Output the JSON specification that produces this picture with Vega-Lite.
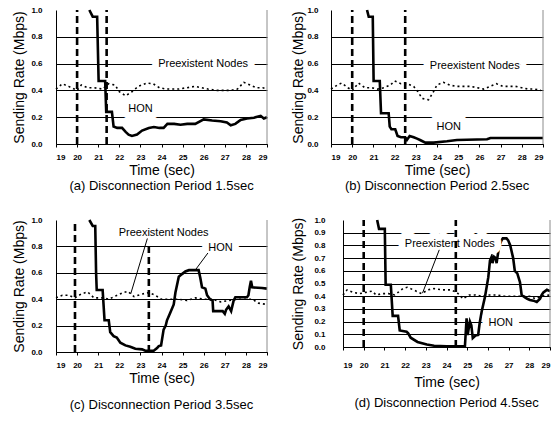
{
  "$schema": "https://vega.github.io/schema/vega-lite/v6.json",
  "background": "white",
  "padding": {"left": 12, "top": 4, "right": 2, "bottom": 2},
  "config": {
    "view": {"stroke": null},
    "font": "Liberation Sans",
    "axis": {
      "labelFont": "Liberation Sans",
      "labelFontWeight": "bold",
      "labelFontSize": 8,
      "labelColor": "black",
      "titleFont": "Liberation Sans",
      "titleFontSize": 14,
      "titleFontWeight": "normal",
      "titleColor": "black",
      "domainColor": "black",
      "domainWidth": 1
    },
    "axisX": {"grid": false, "tickColor": "black", "tickSize": 3, "labelPadding": 6, "titlePadding": 2, "format": "d"},
    "axisY": {
      "grid": true,
      "gridColor": "black",
      "gridWidth": 1,
      "gridOpacity": {"condition": {"test": "datum.value >= 0.99", "value": 0}, "value": 1},
      "ticks": false,
      "format": ".1f",
      "labelPadding": 14,
      "titlePadding": 4
    },
    "title": {"orient": "bottom", "fontSize": 13, "fontWeight": "normal", "font": "Liberation Sans", "color": "black", "offset": 3}
  },
  "datasets": {
    "hon": [
      {"panel": "a", "t": 20.58, "v": 1.0}, {"panel": "a", "t": 20.74, "v": 0.95}, {"panel": "a", "t": 20.95, "v": 0.95},
      {"panel": "a", "t": 21.02, "v": 0.47}, {"panel": "a", "t": 21.33, "v": 0.47}, {"panel": "a", "t": 21.38, "v": 0.24},
      {"panel": "a", "t": 21.65, "v": 0.24}, {"panel": "a", "t": 21.73, "v": 0.13}, {"panel": "a", "t": 21.9, "v": 0.12},
      {"panel": "a", "t": 22.13, "v": 0.12}, {"panel": "a", "t": 22.3, "v": 0.09}, {"panel": "a", "t": 22.44, "v": 0.07},
      {"panel": "a", "t": 22.6, "v": 0.06}, {"panel": "a", "t": 22.84, "v": 0.07}, {"panel": "a", "t": 23.08, "v": 0.1},
      {"panel": "a", "t": 23.4, "v": 0.12}, {"panel": "a", "t": 23.64, "v": 0.127}, {"panel": "a", "t": 23.9, "v": 0.12},
      {"panel": "a", "t": 24.1, "v": 0.12}, {"panel": "a", "t": 24.28, "v": 0.15}, {"panel": "a", "t": 24.6, "v": 0.15},
      {"panel": "a", "t": 24.9, "v": 0.144}, {"panel": "a", "t": 25.22, "v": 0.15}, {"panel": "a", "t": 25.6, "v": 0.15},
      {"panel": "a", "t": 26.0, "v": 0.184}, {"panel": "a", "t": 26.4, "v": 0.175}, {"panel": "a", "t": 26.8, "v": 0.17},
      {"panel": "a", "t": 27.1, "v": 0.16}, {"panel": "a", "t": 27.28, "v": 0.14}, {"panel": "a", "t": 27.5, "v": 0.15},
      {"panel": "a", "t": 27.75, "v": 0.18}, {"panel": "a", "t": 28.05, "v": 0.19}, {"panel": "a", "t": 28.38, "v": 0.196},
      {"panel": "a", "t": 28.7, "v": 0.21}, {"panel": "a", "t": 28.85, "v": 0.19}, {"panel": "a", "t": 29.0, "v": 0.2},

      {"panel": "b", "t": 20.7, "v": 1.0}, {"panel": "b", "t": 20.78, "v": 0.95}, {"panel": "b", "t": 20.97, "v": 0.95},
      {"panel": "b", "t": 21.01, "v": 0.47}, {"panel": "b", "t": 21.3, "v": 0.47}, {"panel": "b", "t": 21.36, "v": 0.23},
      {"panel": "b", "t": 21.72, "v": 0.23}, {"panel": "b", "t": 21.77, "v": 0.13}, {"panel": "b", "t": 21.85, "v": 0.11},
      {"panel": "b", "t": 22.03, "v": 0.11}, {"panel": "b", "t": 22.14, "v": 0.06}, {"panel": "b", "t": 22.3, "v": 0.05},
      {"panel": "b", "t": 22.5, "v": 0.05}, {"panel": "b", "t": 22.58, "v": 0.03}, {"panel": "b", "t": 22.71, "v": 0.06},
      {"panel": "b", "t": 22.9, "v": 0.05}, {"panel": "b", "t": 23.06, "v": 0.04}, {"panel": "b", "t": 23.2, "v": 0.03},
      {"panel": "b", "t": 23.45, "v": 0.01}, {"panel": "b", "t": 23.84, "v": 0.01}, {"panel": "b", "t": 24.47, "v": 0.02},
      {"panel": "b", "t": 24.94, "v": 0.03}, {"panel": "b", "t": 26.36, "v": 0.035}, {"panel": "b", "t": 26.52, "v": 0.045},
      {"panel": "b", "t": 29.0, "v": 0.045},

      {"panel": "c", "t": 20.58, "v": 1.0}, {"panel": "c", "t": 20.74, "v": 0.955}, {"panel": "c", "t": 20.86, "v": 0.955},
      {"panel": "c", "t": 20.9, "v": 0.6}, {"panel": "c", "t": 20.93, "v": 0.47}, {"panel": "c", "t": 21.21, "v": 0.47},
      {"panel": "c", "t": 21.3, "v": 0.24}, {"panel": "c", "t": 21.5, "v": 0.24}, {"panel": "c", "t": 21.57, "v": 0.15},
      {"panel": "c", "t": 21.73, "v": 0.12}, {"panel": "c", "t": 21.88, "v": 0.11}, {"panel": "c", "t": 22.05, "v": 0.07},
      {"panel": "c", "t": 22.29, "v": 0.05}, {"panel": "c", "t": 22.52, "v": 0.04}, {"panel": "c", "t": 22.76, "v": 0.025},
      {"panel": "c", "t": 23.08, "v": 0.02}, {"panel": "c", "t": 23.23, "v": 0.01}, {"panel": "c", "t": 23.63, "v": 0.01},
      {"panel": "c", "t": 23.79, "v": 0.03}, {"panel": "c", "t": 23.87, "v": 0.045}, {"panel": "c", "t": 23.98, "v": 0.05},
      {"panel": "c", "t": 24.1, "v": 0.17}, {"panel": "c", "t": 24.2, "v": 0.2}, {"panel": "c", "t": 24.26, "v": 0.24},
      {"panel": "c", "t": 24.42, "v": 0.3}, {"panel": "c", "t": 24.58, "v": 0.36}, {"panel": "c", "t": 24.66, "v": 0.45},
      {"panel": "c", "t": 24.82, "v": 0.57}, {"panel": "c", "t": 24.97, "v": 0.59}, {"panel": "c", "t": 25.13, "v": 0.61},
      {"panel": "c", "t": 25.3, "v": 0.62}, {"panel": "c", "t": 25.76, "v": 0.62}, {"panel": "c", "t": 25.84, "v": 0.56},
      {"panel": "c", "t": 25.92, "v": 0.49}, {"panel": "c", "t": 26.08, "v": 0.48}, {"panel": "c", "t": 26.16, "v": 0.43},
      {"panel": "c", "t": 26.3, "v": 0.4}, {"panel": "c", "t": 26.42, "v": 0.39}, {"panel": "c", "t": 26.45, "v": 0.31},
      {"panel": "c", "t": 26.9, "v": 0.31}, {"panel": "c", "t": 27.0, "v": 0.29}, {"panel": "c", "t": 27.06, "v": 0.32},
      {"panel": "c", "t": 27.18, "v": 0.345}, {"panel": "c", "t": 27.3, "v": 0.31}, {"panel": "c", "t": 27.42, "v": 0.39},
      {"panel": "c", "t": 27.5, "v": 0.415}, {"panel": "c", "t": 28.05, "v": 0.415}, {"panel": "c", "t": 28.12, "v": 0.43},
      {"panel": "c", "t": 28.18, "v": 0.49}, {"panel": "c", "t": 28.24, "v": 0.54}, {"panel": "c", "t": 28.3, "v": 0.49},
      {"panel": "c", "t": 28.76, "v": 0.485}, {"panel": "c", "t": 29.0, "v": 0.48},

      {"panel": "d", "t": 20.65, "v": 1.0}, {"panel": "d", "t": 20.74, "v": 0.93}, {"panel": "d", "t": 21.02, "v": 0.93},
      {"panel": "d", "t": 21.06, "v": 0.49}, {"panel": "d", "t": 21.31, "v": 0.49}, {"panel": "d", "t": 21.4, "v": 0.245},
      {"panel": "d", "t": 21.66, "v": 0.245}, {"panel": "d", "t": 21.74, "v": 0.13}, {"panel": "d", "t": 22.07, "v": 0.12},
      {"panel": "d", "t": 22.15, "v": 0.107}, {"panel": "d", "t": 22.27, "v": 0.073}, {"panel": "d", "t": 22.6, "v": 0.04},
      {"panel": "d", "t": 23.05, "v": 0.02}, {"panel": "d", "t": 23.4, "v": 0.01}, {"panel": "d", "t": 24.0, "v": 0.006},
      {"panel": "d", "t": 24.89, "v": 0.006}, {"panel": "d", "t": 24.97, "v": 0.225}, {"panel": "d", "t": 25.02, "v": 0.095},
      {"panel": "d", "t": 25.13, "v": 0.2}, {"panel": "d", "t": 25.2, "v": 0.17}, {"panel": "d", "t": 25.27, "v": 0.07},
      {"panel": "d", "t": 25.4, "v": 0.09}, {"panel": "d", "t": 25.53, "v": 0.095}, {"panel": "d", "t": 25.6, "v": 0.185},
      {"panel": "d", "t": 25.7, "v": 0.28}, {"panel": "d", "t": 25.86, "v": 0.395}, {"panel": "d", "t": 26.02, "v": 0.55},
      {"panel": "d", "t": 26.1, "v": 0.68}, {"panel": "d", "t": 26.18, "v": 0.71}, {"panel": "d", "t": 26.22, "v": 0.66},
      {"panel": "d", "t": 26.3, "v": 0.71}, {"panel": "d", "t": 26.38, "v": 0.7}, {"panel": "d", "t": 26.42, "v": 0.66},
      {"panel": "d", "t": 26.5, "v": 0.75}, {"panel": "d", "t": 26.58, "v": 0.81}, {"panel": "d", "t": 26.66, "v": 0.84},
      {"panel": "d", "t": 26.72, "v": 0.855}, {"panel": "d", "t": 26.9, "v": 0.855}, {"panel": "d", "t": 26.98, "v": 0.84},
      {"panel": "d", "t": 27.08, "v": 0.8}, {"panel": "d", "t": 27.22, "v": 0.7}, {"panel": "d", "t": 27.3, "v": 0.6},
      {"panel": "d", "t": 27.42, "v": 0.58}, {"panel": "d", "t": 27.55, "v": 0.51}, {"panel": "d", "t": 27.63, "v": 0.41},
      {"panel": "d", "t": 27.79, "v": 0.39}, {"panel": "d", "t": 27.9, "v": 0.38}, {"panel": "d", "t": 28.03, "v": 0.37},
      {"panel": "d", "t": 28.2, "v": 0.365}, {"panel": "d", "t": 28.36, "v": 0.355}, {"panel": "d", "t": 28.52, "v": 0.38},
      {"panel": "d", "t": 28.6, "v": 0.41}, {"panel": "d", "t": 28.68, "v": 0.43}, {"panel": "d", "t": 28.85, "v": 0.45},
      {"panel": "d", "t": 29.0, "v": 0.44}
    ],
    "pre": [
      {"panel": "a", "t": 19.0, "v": 0.41}, {"panel": "a", "t": 19.3, "v": 0.45}, {"panel": "a", "t": 19.6, "v": 0.43},
      {"panel": "a", "t": 20.0, "v": 0.4}, {"panel": "a", "t": 20.2, "v": 0.44}, {"panel": "a", "t": 20.5, "v": 0.42},
      {"panel": "a", "t": 20.8, "v": 0.42}, {"panel": "a", "t": 21.2, "v": 0.41}, {"panel": "a", "t": 21.5, "v": 0.45},
      {"panel": "a", "t": 21.8, "v": 0.44}, {"panel": "a", "t": 22.0, "v": 0.39}, {"panel": "a", "t": 22.3, "v": 0.36},
      {"panel": "a", "t": 22.6, "v": 0.39}, {"panel": "a", "t": 22.9, "v": 0.43}, {"panel": "a", "t": 23.3, "v": 0.455},
      {"panel": "a", "t": 23.6, "v": 0.45}, {"panel": "a", "t": 23.9, "v": 0.42}, {"panel": "a", "t": 24.2, "v": 0.41},
      {"panel": "a", "t": 24.5, "v": 0.41}, {"panel": "a", "t": 24.8, "v": 0.41}, {"panel": "a", "t": 25.2, "v": 0.42},
      {"panel": "a", "t": 25.6, "v": 0.43}, {"panel": "a", "t": 25.9, "v": 0.42}, {"panel": "a", "t": 26.2, "v": 0.41},
      {"panel": "a", "t": 26.6, "v": 0.4}, {"panel": "a", "t": 27.0, "v": 0.4}, {"panel": "a", "t": 27.3, "v": 0.4},
      {"panel": "a", "t": 27.6, "v": 0.41}, {"panel": "a", "t": 27.9, "v": 0.46}, {"panel": "a", "t": 28.2, "v": 0.44},
      {"panel": "a", "t": 28.5, "v": 0.42}, {"panel": "a", "t": 28.8, "v": 0.42}, {"panel": "a", "t": 29.0, "v": 0.41},

      {"panel": "b", "t": 19.0, "v": 0.41}, {"panel": "b", "t": 19.3, "v": 0.44}, {"panel": "b", "t": 19.5, "v": 0.455},
      {"panel": "b", "t": 19.8, "v": 0.42}, {"panel": "b", "t": 20.0, "v": 0.4}, {"panel": "b", "t": 20.3, "v": 0.455},
      {"panel": "b", "t": 20.6, "v": 0.42}, {"panel": "b", "t": 20.9, "v": 0.42}, {"panel": "b", "t": 21.2, "v": 0.41},
      {"panel": "b", "t": 21.5, "v": 0.42}, {"panel": "b", "t": 21.8, "v": 0.44}, {"panel": "b", "t": 22.0, "v": 0.47},
      {"panel": "b", "t": 22.3, "v": 0.45}, {"panel": "b", "t": 22.6, "v": 0.45}, {"panel": "b", "t": 22.9, "v": 0.43},
      {"panel": "b", "t": 23.1, "v": 0.39}, {"panel": "b", "t": 23.3, "v": 0.34}, {"panel": "b", "t": 23.6, "v": 0.33},
      {"panel": "b", "t": 23.8, "v": 0.38}, {"panel": "b", "t": 24.0, "v": 0.44}, {"panel": "b", "t": 24.3, "v": 0.46},
      {"panel": "b", "t": 24.6, "v": 0.44}, {"panel": "b", "t": 24.9, "v": 0.43}, {"panel": "b", "t": 25.2, "v": 0.43},
      {"panel": "b", "t": 25.6, "v": 0.43}, {"panel": "b", "t": 25.9, "v": 0.42}, {"panel": "b", "t": 26.2, "v": 0.41},
      {"panel": "b", "t": 26.5, "v": 0.43}, {"panel": "b", "t": 26.8, "v": 0.45}, {"panel": "b", "t": 27.1, "v": 0.43},
      {"panel": "b", "t": 27.4, "v": 0.43}, {"panel": "b", "t": 27.7, "v": 0.43}, {"panel": "b", "t": 28.0, "v": 0.42},
      {"panel": "b", "t": 28.3, "v": 0.41}, {"panel": "b", "t": 28.6, "v": 0.41}, {"panel": "b", "t": 28.9, "v": 0.4},

      {"panel": "c", "t": 19.0, "v": 0.41}, {"panel": "c", "t": 19.3, "v": 0.43}, {"panel": "c", "t": 19.6, "v": 0.43},
      {"panel": "c", "t": 19.9, "v": 0.41}, {"panel": "c", "t": 20.2, "v": 0.44}, {"panel": "c", "t": 20.5, "v": 0.455},
      {"panel": "c", "t": 20.8, "v": 0.41}, {"panel": "c", "t": 21.2, "v": 0.41}, {"panel": "c", "t": 21.5, "v": 0.4},
      {"panel": "c", "t": 21.9, "v": 0.43}, {"panel": "c", "t": 22.2, "v": 0.45}, {"panel": "c", "t": 22.4, "v": 0.46},
      {"panel": "c", "t": 22.7, "v": 0.42}, {"panel": "c", "t": 23.1, "v": 0.44}, {"panel": "c", "t": 23.4, "v": 0.45},
      {"panel": "c", "t": 23.7, "v": 0.43}, {"panel": "c", "t": 24.0, "v": 0.4}, {"panel": "c", "t": 24.4, "v": 0.4},
      {"panel": "c", "t": 24.8, "v": 0.4}, {"panel": "c", "t": 25.2, "v": 0.39}, {"panel": "c", "t": 25.6, "v": 0.41},
      {"panel": "c", "t": 26.0, "v": 0.4}, {"panel": "c", "t": 26.4, "v": 0.4}, {"panel": "c", "t": 26.8, "v": 0.38},
      {"panel": "c", "t": 27.2, "v": 0.39}, {"panel": "c", "t": 27.6, "v": 0.4}, {"panel": "c", "t": 28.0, "v": 0.4},
      {"panel": "c", "t": 28.3, "v": 0.4}, {"panel": "c", "t": 28.6, "v": 0.37}, {"panel": "c", "t": 29.0, "v": 0.36},

      {"panel": "d", "t": 19.0, "v": 0.41}, {"panel": "d", "t": 19.2, "v": 0.45}, {"panel": "d", "t": 19.5, "v": 0.43},
      {"panel": "d", "t": 19.8, "v": 0.42}, {"panel": "d", "t": 20.1, "v": 0.43}, {"panel": "d", "t": 20.4, "v": 0.44},
      {"panel": "d", "t": 20.6, "v": 0.41}, {"panel": "d", "t": 20.9, "v": 0.42}, {"panel": "d", "t": 21.2, "v": 0.42},
      {"panel": "d", "t": 21.5, "v": 0.41}, {"panel": "d", "t": 21.9, "v": 0.46}, {"panel": "d", "t": 22.1, "v": 0.47},
      {"panel": "d", "t": 22.4, "v": 0.45}, {"panel": "d", "t": 22.8, "v": 0.42}, {"panel": "d", "t": 23.1, "v": 0.45},
      {"panel": "d", "t": 23.4, "v": 0.46}, {"panel": "d", "t": 23.8, "v": 0.45}, {"panel": "d", "t": 24.2, "v": 0.45},
      {"panel": "d", "t": 24.5, "v": 0.43}, {"panel": "d", "t": 24.8, "v": 0.38}, {"panel": "d", "t": 25.1, "v": 0.41},
      {"panel": "d", "t": 25.4, "v": 0.41}, {"panel": "d", "t": 25.7, "v": 0.4}, {"panel": "d", "t": 26.0, "v": 0.41},
      {"panel": "d", "t": 26.4, "v": 0.41}, {"panel": "d", "t": 26.8, "v": 0.4}, {"panel": "d", "t": 27.2, "v": 0.4},
      {"panel": "d", "t": 27.6, "v": 0.4}, {"panel": "d", "t": 28.0, "v": 0.4}, {"panel": "d", "t": 28.3, "v": 0.38},
      {"panel": "d", "t": 28.6, "v": 0.4}, {"panel": "d", "t": 29.0, "v": 0.41}
    ],
    "cuts": [
      {"panel": "a", "k": 1, "t": 20.0, "v": 0}, {"panel": "a", "k": 1, "t": 20.0, "v": 1},
      {"panel": "a", "k": 2, "t": 21.4, "v": 0}, {"panel": "a", "k": 2, "t": 21.4, "v": 1},
      {"panel": "b", "k": 1, "t": 20.0, "v": 0}, {"panel": "b", "k": 1, "t": 20.0, "v": 1},
      {"panel": "b", "k": 2, "t": 22.5, "v": 0}, {"panel": "b", "k": 2, "t": 22.5, "v": 1},
      {"panel": "c", "k": 1, "t": 19.9, "v": 0}, {"panel": "c", "k": 1, "t": 19.9, "v": 1},
      {"panel": "c", "k": 2, "t": 23.4, "v": 0}, {"panel": "c", "k": 2, "t": 23.4, "v": 1},
      {"panel": "d", "k": 1, "t": 20.0, "v": 0}, {"panel": "d", "k": 1, "t": 20.0, "v": 1},
      {"panel": "d", "k": 2, "t": 24.45, "v": 0}, {"panel": "d", "k": 2, "t": 24.45, "v": 1}
    ],
    "edge": [{"t": 29, "v": 0}, {"t": 29, "v": 1}],
    "notes": [
      {"panel": "a", "label": "Preexistent Nodes", "t": 25.97, "v": 0.6},
      {"panel": "a", "label": "HON", "t": 23.0, "v": 0.26},
      {"panel": "b", "label": "Preexistent Nodes", "t": 25.78, "v": 0.58},
      {"panel": "b", "label": "HON", "t": 24.55, "v": 0.13},
      {"panel": "c", "label": "Preexistent Nodes", "t": 24.1, "v": 0.9},
      {"panel": "c", "label": "HON", "t": 26.8, "v": 0.785},
      {"panel": "d", "label": "Preexistent Nodes", "t": 24.16, "v": 0.81},
      {"panel": "d", "label": "HON", "t": 26.62, "v": 0.19}
    ],
    "leaders": [
      {"panel": "c", "k": 1, "t": 23.33, "v": 0.86}, {"panel": "c", "k": 1, "t": 22.54, "v": 0.44},
      {"panel": "c", "k": 2, "t": 26.2, "v": 0.75}, {"panel": "c", "k": 2, "t": 25.62, "v": 0.625},
      {"panel": "d", "k": 1, "t": 23.65, "v": 0.765}, {"panel": "d", "k": 1, "t": 22.84, "v": 0.424}
    ]
  },
  "spacing": 21,
  "vconcat": [
    {
      "spacing": 18,
      "hconcat": [
        {
          "width": 211, "height": 134,
          "title": {"text": "(a) Disconnection Period 1.5sec"},
          "encoding": {
            "x": {"field": "t", "type": "quantitative", "scale": {"domain": [19, 29]}, "axis": {"title": "Time (sec)", "values": [19, 20, 21, 22, 23, 24, 25, 26, 27, 28, 29]}},
            "y": {"field": "v", "type": "quantitative", "scale": {"domain": [0, 1]}, "axis": {"title": "Sending Rate (Mbps)", "values": [0, 0.2, 0.4, 0.6, 0.8, 1.0]}}
          },
          "layer": [
            {"data": {"name": "pre"}, "transform": [{"filter": "datum.panel == 'a'"}], "mark": {"type": "line", "stroke": "black", "strokeWidth": 1.6, "strokeDash": [2, 3]}},
            {"data": {"name": "hon"}, "transform": [{"filter": "datum.panel == 'a'"}], "mark": {"type": "line", "stroke": "black", "strokeWidth": 2.6}},
            {"data": {"name": "cuts"}, "transform": [{"filter": "datum.panel == 'a'"}], "mark": {"type": "line", "stroke": "black", "strokeWidth": 2.6, "strokeDash": [7, 4]}, "encoding": {"detail": {"field": "k"}}},
            {"data": {"name": "edge"}, "mark": {"type": "line", "stroke": "#8c8c8c", "strokeWidth": 1}, "encoding": {}},
            {"data": {"name": "notes"}, "transform": [{"filter": "datum.panel == 'a'"}], "mark": {"type": "text", "fontSize": 11, "fill": "white", "stroke": "white", "strokeWidth": 14, "strokeJoin": "round"}, "encoding": {"text": {"field": "label"}}},
            {"data": {"name": "notes"}, "transform": [{"filter": "datum.panel == 'a'"}], "mark": {"type": "text", "fontSize": 11, "fill": "black"}, "encoding": {"text": {"field": "label"}}}
          ]
        },
        {
          "width": 212, "height": 134,
          "title": {"text": "(b) Disconnection Period 2.5sec"},
          "encoding": {
            "x": {"field": "t", "type": "quantitative", "scale": {"domain": [19, 29]}, "axis": {"title": "Time (sec)", "values": [19, 20, 21, 22, 23, 24, 25, 26, 27, 28, 29]}},
            "y": {"field": "v", "type": "quantitative", "scale": {"domain": [0, 1]}, "axis": {"title": "Sending Rate (Mbps)", "values": [0, 0.2, 0.4, 0.6, 0.8, 1.0], "labelPadding": 13, "titlePadding": 1}}
          },
          "layer": [
            {"data": {"name": "pre"}, "transform": [{"filter": "datum.panel == 'b'"}], "mark": {"type": "line", "stroke": "black", "strokeWidth": 1.6, "strokeDash": [2, 3]}},
            {"data": {"name": "hon"}, "transform": [{"filter": "datum.panel == 'b'"}], "mark": {"type": "line", "stroke": "black", "strokeWidth": 2.6}},
            {"data": {"name": "cuts"}, "transform": [{"filter": "datum.panel == 'b'"}], "mark": {"type": "line", "stroke": "black", "strokeWidth": 2.6, "strokeDash": [7, 4]}, "encoding": {"detail": {"field": "k"}}},
            {"data": {"name": "edge"}, "mark": {"type": "line", "stroke": "#8c8c8c", "strokeWidth": 1}, "encoding": {}},
            {"data": {"name": "notes"}, "transform": [{"filter": "datum.panel == 'b'"}], "mark": {"type": "text", "fontSize": 11, "fill": "white", "stroke": "white", "strokeWidth": 14, "strokeJoin": "round"}, "encoding": {"text": {"field": "label"}}},
            {"data": {"name": "notes"}, "transform": [{"filter": "datum.panel == 'b'"}], "mark": {"type": "text", "fontSize": 11, "fill": "black"}, "encoding": {"text": {"field": "label"}}}
          ]
        }
      ]
    },
    {
      "spacing": 18,
      "hconcat": [
        {
          "width": 211, "height": 132,
          "title": {"text": "(c) Disconnection Period 3.5sec", "offset": 14},
          "encoding": {
            "x": {"field": "t", "type": "quantitative", "scale": {"domain": [19, 29]}, "axis": {"title": "Time (sec)", "values": [19, 20, 21, 22, 23, 24, 25, 26, 27, 28, 29]}},
            "y": {"field": "v", "type": "quantitative", "scale": {"domain": [0, 1]}, "axis": {"title": "Sending Rate (Mbps)", "values": [0, 0.2, 0.4, 0.6, 0.8, 1.0]}}
          },
          "layer": [
            {"data": {"name": "pre"}, "transform": [{"filter": "datum.panel == 'c'"}], "mark": {"type": "line", "stroke": "black", "strokeWidth": 1.6, "strokeDash": [2, 3]}},
            {"data": {"name": "hon"}, "transform": [{"filter": "datum.panel == 'c'"}], "mark": {"type": "line", "stroke": "black", "strokeWidth": 2.6}},
            {"data": {"name": "cuts"}, "transform": [{"filter": "datum.panel == 'c'"}], "mark": {"type": "line", "stroke": "black", "strokeWidth": 2.6, "strokeDash": [7, 4]}, "encoding": {"detail": {"field": "k"}}},
            {"data": {"name": "edge"}, "mark": {"type": "line", "stroke": "#8c8c8c", "strokeWidth": 1}, "encoding": {}},
            {"data": {"name": "notes"}, "transform": [{"filter": "datum.panel == 'c'"}], "mark": {"type": "text", "fontSize": 11, "fill": "white", "stroke": "white", "strokeWidth": 14, "strokeJoin": "round"}, "encoding": {"text": {"field": "label"}}},
            {"data": {"name": "leaders"}, "transform": [{"filter": "datum.panel == 'c'"}], "mark": {"type": "line", "stroke": "black", "strokeWidth": 1}, "encoding": {"detail": {"field": "k"}}},
            {"data": {"name": "notes"}, "transform": [{"filter": "datum.panel == 'c'"}], "mark": {"type": "text", "fontSize": 11, "fill": "black"}, "encoding": {"text": {"field": "label"}}}
          ]
        },
        {
          "width": 207, "height": 127,
          "title": {"text": "(d) Disconnection Period 4.5sec", "offset": 8},
          "encoding": {
            "x": {"field": "t", "type": "quantitative", "scale": {"domain": [19, 29]}, "axis": {"title": "Time (sec)", "values": [19, 20, 21, 22, 23, 24, 25, 26, 27, 28, 29], "labelPadding": 11, "titlePadding": 6}},
            "y": {"field": "v", "type": "quantitative", "scale": {"domain": [0, 1]}, "axis": {"title": "Sending Rate (Mbps)", "values": [0, 0.1, 0.2, 0.3, 0.4, 0.5, 0.6, 0.7, 0.8, 0.9, 1.0], "labelPadding": 18, "titlePadding": 8}}
          },
          "layer": [
            {"data": {"name": "pre"}, "transform": [{"filter": "datum.panel == 'd'"}], "mark": {"type": "line", "stroke": "black", "strokeWidth": 1.6, "strokeDash": [2, 3]}},
            {"data": {"name": "hon"}, "transform": [{"filter": "datum.panel == 'd'"}], "mark": {"type": "line", "stroke": "black", "strokeWidth": 2.6}},
            {"data": {"name": "edge"}, "mark": {"type": "line", "stroke": "#8c8c8c", "strokeWidth": 1}, "encoding": {}},
            {"data": {"name": "notes"}, "transform": [{"filter": "datum.panel == 'd'"}], "mark": {"type": "text", "fontSize": 11, "fill": "white", "stroke": "white", "strokeWidth": 14, "strokeJoin": "round"}, "encoding": {"text": {"field": "label"}}},
            {"data": {"name": "cuts"}, "transform": [{"filter": "datum.panel == 'd'"}], "mark": {"type": "line", "stroke": "black", "strokeWidth": 2.6, "strokeDash": [7, 4]}, "encoding": {"detail": {"field": "k"}}},
            {"data": {"name": "leaders"}, "transform": [{"filter": "datum.panel == 'd'"}], "mark": {"type": "line", "stroke": "black", "strokeWidth": 1}, "encoding": {"detail": {"field": "k"}}},
            {"data": {"name": "notes"}, "transform": [{"filter": "datum.panel == 'd'"}], "mark": {"type": "text", "fontSize": 11, "fill": "black"}, "encoding": {"text": {"field": "label"}}}
          ]
        }
      ]
    }
  ]
}
